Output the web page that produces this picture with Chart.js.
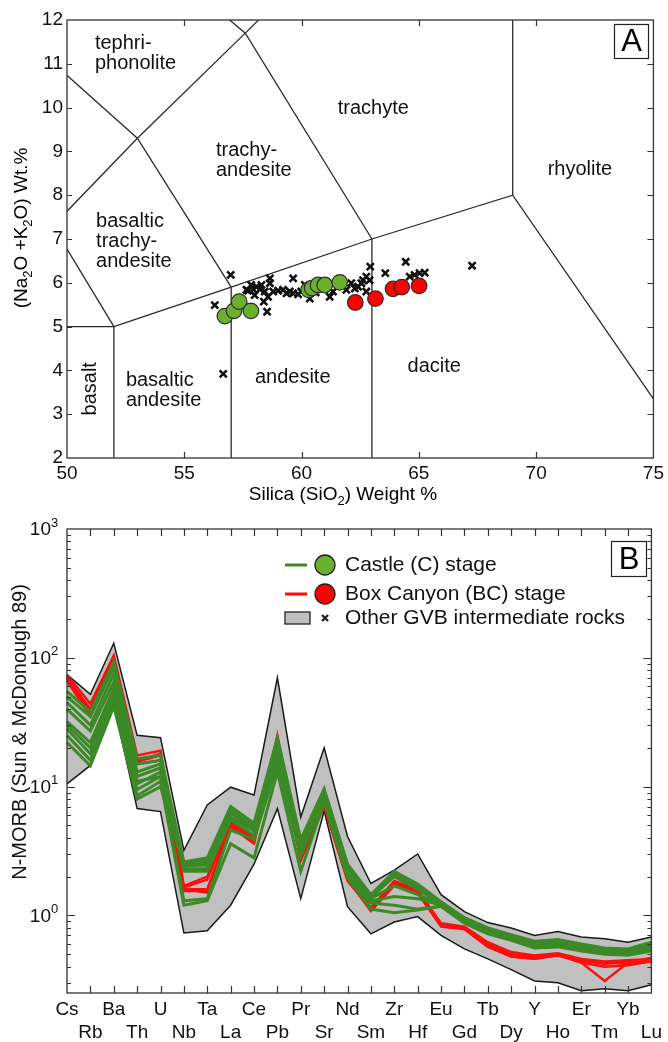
<!DOCTYPE html>
<html>
<head>
<meta charset="utf-8">
<script src="https://cdn.jsdelivr.net/npm/chart.js@4.4.1/dist/chart.umd.min.js"></script>
<style>
  html, body { margin: 0; padding: 0; background: #fff; }
  #wrap { position: relative; width: 668px; height: 1042px; }
  #tas { position: absolute; left: 0; top: 0; }
  #spider { position: absolute; left: 0; top: 505px; }
</style>
</head>
<body>
<div id="wrap">
  <canvas id="tas" width="668" height="505"></canvas>
  <canvas id="spider" width="668" height="537"></canvas>
</div>
<script>
// ---- A: total alkali vs silica (wt.%) ----
const castleSiO2 = [56.73, 57.12, 57.34, 57.84, 60.30, 60.45, 60.70, 60.99, 61.63];
const castleAlk  = [5.24, 5.36, 5.57, 5.36, 5.84, 5.88, 5.95, 5.95, 6.01];
const boxSiO2 = [62.29, 63.15, 63.90, 64.27, 65.01];
const boxAlk  = [5.55, 5.64, 5.86, 5.90, 5.93];
const gvbSiO2 = [56.30, 56.98, 56.66, 57.65, 57.72, 57.85, 57.94, 58.00, 58.08, 58.22, 58.29, 58.43,
  58.53, 58.39, 58.57, 58.65, 58.65, 58.79, 59.00, 59.21, 59.36, 59.50, 59.64, 59.64, 59.85, 59.99,
  60.14, 60.35, 60.60, 61.20, 61.34, 61.91, 62.12, 62.27, 62.41, 62.55, 62.62, 62.76, 62.76, 62.90,
  62.93, 63.57, 64.44, 64.61, 64.82, 65.03, 65.25, 67.27];
const gvbAlk = [5.49, 6.18, 3.92, 5.84, 5.82, 5.95, 5.85, 5.72, 5.91, 5.85, 5.95, 5.80,
  5.34, 5.57, 5.68, 6.10, 5.99, 5.80, 5.82, 5.84, 5.76, 5.80, 6.10, 5.76, 5.74, 5.80,
  5.95, 5.64, 5.78, 5.68, 5.80, 5.84, 5.99, 5.87, 5.91, 5.99, 6.06, 6.14, 5.80, 6.06,
  6.37, 6.22, 6.48, 6.14, 6.18, 6.22, 6.23, 6.39];

// TAS field boundaries (SiO2, Na2O+K2O)
const tasBounds = [
  [[45, 5], [52, 5], [57, 5.9], [63, 7], [69, 8], [75, 3.35]],
  [[52, 0], [52, 5]],
  [[57, 0], [57, 5.9]],
  [[63, 0], [63, 7]],
  [[69, 8], [69, 13]],
  [[52, 5], [49.4, 7.3]],
  [[57, 5.9], [53, 9.3], [48.4, 11.5]],
  [[63, 7], [57.6, 11.7], [52.5, 14]],
  [[49.4, 7.3], [53, 9.3], [57.6, 11.7], [61, 13.5]]
];

// ---- B: N-MORB normalised trace elements ----
const elements = ['Cs', 'Rb', 'Ba', 'Th', 'U', 'Nb', 'Ta', 'La', 'Ce', 'Pb', 'Pr', 'Sr', 'Nd',
  'Sm', 'Zr', 'Hf', 'Eu', 'Gd', 'Tb', 'Dy', 'Y', 'Ho', 'Er', 'Tm', 'Yb', 'Lu'];

const envUpper = [74, 52, 130, 25, 24, 3.2, 7.2, 9.9, 8.6, 70, 5.8, 20, 4.1, 1.77, 2.25, 3.0,
  1.45, 1.07, 0.88, 0.80, 0.70, 0.75, 0.68, 0.66, 0.62, 0.68];
const envLower = [10.5, 14.6, 44, 6.75, 6.4, 0.73, 0.76, 1.2, 2.5, 6.75, 1.35, 6.5, 1.17, 0.72,
  0.89, 0.98, 0.70, 0.55, 0.46, 0.38, 0.31, 0.30, 0.26, 0.27, 0.26, 0.29];

const castleSpider = [
  [55, 38, 93, 16.5, 17.5, 2.6, 2.8, 7.0, 5.2, 24, 3.9, 9.6, 2.5, 1.45, 2.2, 1.75, 1.28, 0.96, 0.80, 0.71, 0.63, 0.65, 0.60, 0.56, 0.55, 0.62],
  [50, 35, 85, 15, 16, 2.5, 2.6, 6.6, 4.9, 22, 3.6, 9.2, 2.4, 1.40, 2.1, 1.7, 1.25, 0.93, 0.78, 0.70, 0.61, 0.63, 0.58, 0.55, 0.53, 0.60],
  [45, 30, 75, 13, 15, 2.45, 2.45, 6.2, 4.6, 20, 3.3, 8.8, 2.3, 1.38, 2.0, 1.6, 1.22, 0.92, 0.76, 0.68, 0.60, 0.62, 0.57, 0.54, 0.52, 0.58],
  [40, 27, 65, 12, 14, 2.3, 2.3, 5.8, 4.5, 18, 3.4, 9.0, 2.2, 1.35, 1.7, 1.45, 1.22, 0.90, 0.75, 0.67, 0.59, 0.61, 0.56, 0.53, 0.51, 0.57],
  [32, 22, 58, 10.5, 13, 2.2, 2.2, 5.5, 4.2, 17, 3.1, 8.5, 2.1, 1.3, 1.4, 1.35, 1.2, 0.89, 0.74, 0.66, 0.58, 0.60, 0.55, 0.52, 0.50, 0.56],
  [28, 18, 52, 9.5, 12, 1.3, 1.35, 4.6, 3.9, 15, 2.9, 8.0, 2.0, 1.25, 1.2, 1.12, 1.18, 0.88, 0.73, 0.65, 0.57, 0.59, 0.54, 0.51, 0.50, 0.55],
  [25, 16, 48, 8.5, 11, 1.2, 1.3, 3.6, 2.8, 13, 2.2, 7.6, 1.95, 1.12, 1.05, 1.10, 1.18, 0.87, 0.72, 0.64, 0.56, 0.57, 0.53, 0.50, 0.49, 0.53],
  [22, 14.5, 42, 8.0, 10, 2.5, 2.7, 6.6, 4.7, 20, 3.5, 9.3, 2.35, 1.4, 2.05, 1.65, 1.24, 0.92, 0.77, 0.69, 0.61, 0.62, 0.58, 0.55, 0.52, 0.60],
  [30, 20, 55, 11, 12, 2.4, 2.5, 6.4, 4.8, 21, 3.7, 9.4, 2.45, 1.42, 2.15, 1.72, 1.26, 0.94, 0.79, 0.70, 0.62, 0.64, 0.59, 0.55, 0.54, 0.61]
];
const boxSpider = [
  [74, 44, 104, 17.5, 19, 1.7, 2.0, 5.5, 4.0, 25, 2.9, 7.9, 2.1, 1.15, 1.85, 1.58, 0.87, 0.82, 0.62, 0.52, 0.49, 0.51, 0.46, 0.44, 0.45, 0.46],
  [70, 40, 100, 16, 18, 1.65, 1.9, 5.3, 3.9, 24, 2.8, 7.6, 2.0, 1.12, 1.8, 1.55, 0.85, 0.80, 0.60, 0.50, 0.48, 0.50, 0.45, 0.42, 0.44, 0.45],
  [68, 36, 97, 15, 16, 1.6, 1.6, 5.2, 3.8, 23, 2.75, 7.4, 1.95, 1.1, 1.75, 1.52, 0.84, 0.80, 0.59, 0.49, 0.47, 0.50, 0.43, 0.31, 0.43, 0.47],
  [72, 38, 99, 15.6, 17.5, 1.55, 1.55, 5.0, 3.7, 22, 2.7, 7.2, 1.9, 1.08, 1.7, 1.5, 0.83, 0.79, 0.58, 0.48, 0.46, 0.49, 0.44, 0.43, 0.42, 0.44],
  [66, 35, 95, 15, 16, 1.6, 1.5, 4.9, 3.6, 21, 2.7, 7.0, 1.85, 1.12, 1.72, 1.5, 0.82, 0.78, 0.57, 0.48, 0.46, 0.49, 0.43, 0.40, 0.41, 0.44]
];

const FONT = '"Liberation Sans", Arial, sans-serif';
const GREEN_DOT = '#6ab02c';
const GREEN_LINE = '#3c8a27';
const RED = '#ff0d0d';
const ENV_GREY = '#c0c0c0';

// text with sub/superscript pieces: {t, s:'sub'|'sup'}
function drawRich(ctx, parts, x, y, size, align) {
  const small = Math.round(size * 0.68);
  let w = 0;
  parts.forEach(p => {
    ctx.font = (p.s ? small : size) + 'px ' + FONT;
    w += ctx.measureText(p.t).width;
  });
  let cx = align === 'right' ? x - w : align === 'left' ? x : x - w / 2;
  ctx.textAlign = 'left';
  ctx.textBaseline = 'middle';
  parts.forEach(p => {
    ctx.font = (p.s ? small : size) + 'px ' + FONT;
    const dy = p.s === 'sub' ? size * 0.32 : p.s === 'sup' ? -size * 0.38 : 0;
    ctx.fillText(p.t, cx, y + dy);
    cx += ctx.measureText(p.t).width;
  });
}

function drawFrame(ctx, a) {
  ctx.save();
  ctx.strokeStyle = '#333';
  ctx.lineWidth = 1.3;
  ctx.strokeRect(a.left, a.top, a.right - a.left, a.bottom - a.top);
  ctx.restore();
}

function boxLabel(ctx, txt, x, y, w, h) {
  ctx.save();
  ctx.strokeStyle = '#222';
  ctx.lineWidth = 1.2;
  ctx.strokeRect(x + 0.5, y + 0.5, w, h);
  ctx.fillStyle = '#000';
  ctx.font = '31px ' + FONT;
  ctx.textAlign = 'center';
  ctx.textBaseline = 'middle';
  ctx.fillText(txt, x + w / 2 + 0.5, y + h / 2 + 1.5);
  ctx.restore();
}

// field names, left edge and first-line centre in data units
const tasNames = [
  { lines: ['tephri-', 'phonolite'], x: 51.19, y: 11.47 },
  { lines: ['trachy-', 'andesite'], x: 56.35, y: 9.03 },
  { lines: ['basaltic', 'trachy-', 'andesite'], x: 51.24, y: 7.39 },
  { lines: ['trachyte'], x: 61.54, y: 9.99 },
  { lines: ['rhyolite'], x: 70.49, y: 8.58 },
  { lines: ['basaltic', 'andesite'], x: 52.51, y: 3.78 },
  { lines: ['andesite'], x: 58.01, y: 3.83 },
  { lines: ['dacite'], x: 64.52, y: 4.08 }
];

const tasDecor = {
  id: 'tasDecor',
  afterDraw(chart) {
    const { ctx, chartArea: a, scales: { x, y } } = chart;
    drawFrame(ctx, a);
    ctx.save();
    ctx.strokeStyle = '#333';
    ctx.lineWidth = 1.2;
    ctx.beginPath();
    for (let v = 55; v < 75; v += 5) {
      const px = Math.round(x.getPixelForValue(v)) + 0.5;
      ctx.moveTo(px, a.bottom); ctx.lineTo(px, a.bottom - 6);
      ctx.moveTo(px, a.top); ctx.lineTo(px, a.top + 6);
    }
    for (let v = 3; v < 12; v++) {
      const py = Math.round(y.getPixelForValue(v)) + 0.5;
      ctx.moveTo(a.left, py); ctx.lineTo(a.left + 5, py);
      ctx.moveTo(a.right, py); ctx.lineTo(a.right - 6, py);
    }
    ctx.stroke();

    ctx.fillStyle = '#111';
    ctx.font = '20px ' + FONT;
    ctx.textAlign = 'left';
    ctx.textBaseline = 'middle';
    tasNames.forEach(n => {
      const px = x.getPixelForValue(n.x);
      const py = y.getPixelForValue(n.y);
      n.lines.forEach((t, i) => ctx.fillText(t, px, py + i * 20));
    });
    ctx.save();
    ctx.translate(x.getPixelForValue(51.02), y.getPixelForValue(3.58));
    ctx.rotate(-Math.PI / 2);
    ctx.textAlign = 'center';
    ctx.fillText('basalt', 0, 0);
    ctx.restore();

    ctx.fillStyle = '#000';
    drawRich(ctx, [{ t: 'Silica (SiO' }, { t: '2', s: 'sub' }, { t: ') Weight %' }], 343, 495, 19, 'center');
    ctx.translate(22, 228);
    ctx.rotate(-Math.PI / 2);
    drawRich(ctx, [{ t: '(Na' }, { t: '2', s: 'sub' }, { t: 'O +K' }, { t: '2', s: 'sub' }, { t: 'O) Wt.%' }], 0, 0, 19, 'center');
    ctx.restore();
    boxLabel(ctx, 'A', 614, 24, 34, 34);
  }
};

const pts = (xs, ys) => xs.map((v, i) => ({ x: v, y: ys[i] }));

new Chart(document.getElementById('tas'), {
  type: 'scatter',
  data: {
    datasets: [
      ...tasBounds.map(seg => ({
        data: seg.map(p => ({ x: p[0], y: p[1] })),
        showLine: true, borderColor: '#2a2a2a', borderWidth: 1.3, pointRadius: 0, order: 4
      })),
      { data: pts(gvbSiO2, gvbAlk), pointStyle: 'crossRot', pointRadius: 5, pointBorderWidth: 2.6,
        pointBorderColor: '#111', pointBackgroundColor: '#111', order: 3 },
      { data: pts(castleSiO2, castleAlk), pointStyle: 'circle', pointRadius: 7.8, pointBorderWidth: 1.2,
        pointBackgroundColor: GREEN_DOT, pointBorderColor: '#2d2d2d', order: 2 },
      { data: pts(boxSiO2, boxAlk), pointStyle: 'circle', pointRadius: 7.8, pointBorderWidth: 1.2,
        pointBackgroundColor: '#ff0000', pointBorderColor: '#2d2d2d', order: 1 }
    ]
  },
  options: {
    responsive: false, animation: false, events: [],
    layout: { padding: { left: 0, right: 14, top: 20, bottom: 0 } },
    scales: {
      x: {
        type: 'linear', min: 50, max: 75,
        grid: { display: false, drawTicks: false }, border: { display: false },
        ticks: { stepSize: 5, padding: 4, color: '#111', font: { family: FONT, size: 19 } },
        afterFit(s) { s.height = 47; }
      },
      y: {
        type: 'linear', min: 2, max: 12,
        grid: { display: false, drawTicks: false }, border: { display: false },
        ticks: { stepSize: 1, padding: 4, color: '#111', font: { family: FONT, size: 19 } },
        afterFit(s) { s.width = 67; }
      }
    },
    plugins: { legend: { display: false }, tooltip: { enabled: false } }
  },
  plugins: [tasDecor]
});

const spiderDecor = {
  id: 'spiderDecor',
  afterDraw(chart) {
    const { ctx, chartArea: a, scales: { x, y } } = chart;
    drawFrame(ctx, a);
    ctx.save();
    ctx.strokeStyle = '#333';
    ctx.lineWidth = 1.2;
    ctx.beginPath();
    for (let i = 1; i < elements.length - 1; i++) {
      const px = Math.round(x.getPixelForValue(i)) + 0.5;
      ctx.moveTo(px, a.bottom); ctx.lineTo(px, a.bottom - 7);
      ctx.moveTo(px, a.top); ctx.lineTo(px, a.top + 7);
    }
    for (let e = -1; e < 3; e++) {
      for (let m = 1; m < 10; m++) {
        const v = m * Math.pow(10, e);
        if (v < y.min || v > y.max) continue;
        const py = Math.round(y.getPixelForValue(v)) + 0.5;
        const len = m === 1 ? 8 : 4;
        ctx.moveTo(a.left, py); ctx.lineTo(a.left + len, py);
        ctx.moveTo(a.right, py); ctx.lineTo(a.right - len, py);
      }
    }
    ctx.stroke();

    // power-of-ten labels
    ctx.fillStyle = '#111';
    for (let e = 0; e <= 3; e++) {
      const py = y.getPixelForValue(Math.pow(10, e));
      ctx.font = '19px ' + FONT;
      ctx.textAlign = 'right';
      ctx.textBaseline = 'middle';
      ctx.fillText('10', 51, py + 1);
      ctx.font = '13px ' + FONT;
      ctx.textAlign = 'left';
      ctx.fillText(String(e), 51, py - 6);
    }

    ctx.save();
    ctx.translate(20, 227);
    ctx.rotate(-Math.PI / 2);
    ctx.font = '20px ' + FONT;
    ctx.textAlign = 'center';
    ctx.fillText('N-MORB (Sun & McDonough 89)', 0, 0);
    ctx.restore();

    // legend
    const rows = [
      { c: GREEN_LINE, dot: GREEN_DOT, t: 'Castle (C) stage', y: 60 },
      { c: RED, dot: '#ff0000', t: 'Box Canyon (BC) stage', y: 89 }
    ];
    rows.forEach(r => {
      ctx.strokeStyle = r.c;
      ctx.lineWidth = 3;
      ctx.beginPath(); ctx.moveTo(285, r.y); ctx.lineTo(307, r.y); ctx.stroke();
      ctx.beginPath(); ctx.arc(325, r.y, 10, 0, Math.PI * 2);
      ctx.fillStyle = r.dot; ctx.fill();
      ctx.strokeStyle = '#222'; ctx.lineWidth = 1.3; ctx.stroke();
    });
    ctx.fillStyle = ENV_GREY;
    ctx.fillRect(285, 107, 25, 12);
    ctx.strokeStyle = '#222'; ctx.lineWidth = 1.3;
    ctx.strokeRect(285, 107, 25, 12);
    ctx.lineWidth = 2.4;
    ctx.beginPath();
    ctx.moveTo(322, 110); ctx.lineTo(328, 116);
    ctx.moveTo(328, 110); ctx.lineTo(322, 116);
    ctx.stroke();
    ctx.fillStyle = '#111';
    ctx.font = '21px ' + FONT;
    ctx.textAlign = 'left';
    ctx.textBaseline = 'middle';
    ctx.fillText('Castle (C) stage', 345, 60);
    ctx.fillText('Box Canyon (BC) stage', 345, 89);
    ctx.fillText('Other GVB intermediate rocks', 345, 113);
    ctx.restore();
    boxLabel(ctx, 'B', 611, 36, 35, 35);
  }
};

const lineSet = (data, color, width, order) => ({
  data, borderColor: color, borderWidth: width, pointRadius: 0, tension: 0, fill: false, order
});

new Chart(document.getElementById('spider'), {
  type: 'line',
  data: {
    labels: elements.map((e, i) => (i % 2 === 0 ? [e, ''] : ['', e])),
    datasets: [
      { data: envUpper, borderColor: '#1a1a1a', borderWidth: 1.5, pointRadius: 0,
        backgroundColor: ENV_GREY, fill: '+1', order: 5 },
      { data: envLower, borderColor: '#1a1a1a', borderWidth: 1.5, pointRadius: 0, fill: false, order: 4 },
      ...boxSpider.map(s => lineSet(s, RED, 2.4, 2)),
      ...castleSpider.map(s => lineSet(s, GREEN_LINE, 3, 1))
    ]
  },
  options: {
    responsive: false, animation: false, events: [],
    layout: { padding: { left: 0, right: 14, top: 24, bottom: 0 } },
    scales: {
      x: {
        type: 'category', offset: false,
        grid: { display: false, drawTicks: false }, border: { display: false },
        ticks: { autoSkip: false, maxRotation: 0, minRotation: 0, padding: 6, color: '#111',
          font: { family: FONT, size: 19, lineHeight: 1.18 } },
        afterFit(s) { s.height = 49; }
      },
      y: {
        type: 'logarithmic', min: 0.25, max: 1000,
        grid: { display: false, drawTicks: false }, border: { display: false },
        ticks: { display: false },
        afterFit(s) { s.width = 67; }
      }
    },
    plugins: { legend: { display: false }, tooltip: { enabled: false } }
  },
  plugins: [spiderDecor]
});
</script>
</body>
</html>
